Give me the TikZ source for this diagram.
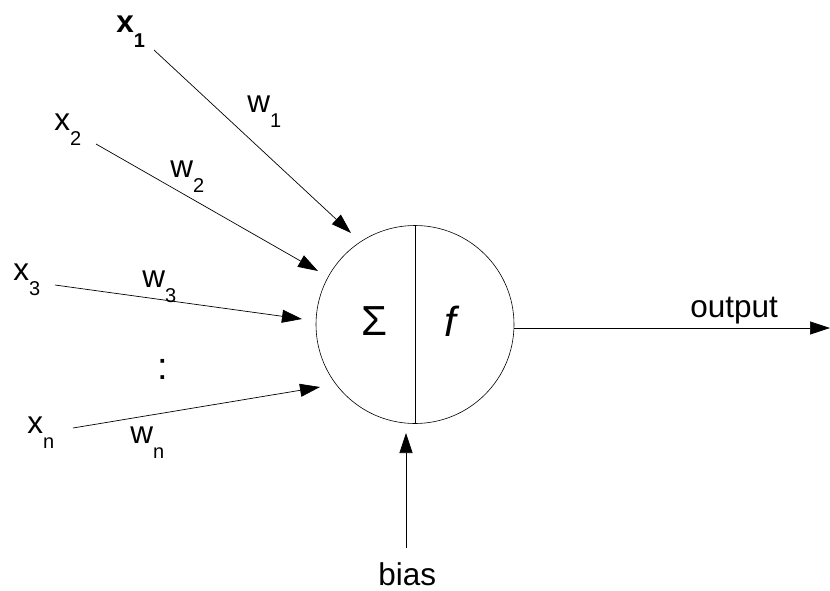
\documentclass[tikz,border=0pt]{standalone}
\usepackage{fontspec}
\setmainfont{Liberation Sans}
\usetikzlibrary{arrows.meta}
\newcommand{\idx}[2]{#1\raisebox{-15pt}{\fontsize{20}{20}\selectfont #2}}

\begin{document}
\begin{tikzpicture}[every node/.style={font=\fontsize{31.5}{32}\selectfont, inner sep=0pt, anchor=base west}, >={Triangle[length=20pt, width=13pt]}, x=1pt, y=-1pt, line width=0.7pt]
	\useasboundingbox (0,0) rectangle (830,590);
	\node[circle, draw, minimum size=198pt, anchor=center, line width=0.6pt] (neuron) at (415,324.5) {};
	\draw[line width=0.6pt] (neuron.north) -- (neuron.south);
	\node[anchor=center, font=\fontsize{42}{42}\selectfont] (sum) at (374,321) {Σ};
	\node[anchor=center, font=\fontsize{42}{42}\selectfont\itshape] (act) at (450,321) {f};
	% inputs and weights
	\node[font=\fontsize{31.5}{32}\selectfont\bfseries] (x1) at (116,32) {\idx{x}{1}};
	\node (x2) at (54,130) {\idx{x}{2}};
	\node (x3) at (13,280) {\idx{x}{3}};
	\node (xn) at (27,433) {\idx{x}{n}};
	\node (w1) at (247,112) {\idx{w}{1}};
	\node (w2) at (170,177) {\idx{w}{2}};
	\node (w3) at (142,287) {\idx{w}{3}};
	\node (wn) at (130,443) {\idx{w}{n}};
	\node[font=\fontsize{38}{38}\selectfont, anchor=base] (dots) at (163,379) {:};
	\coordinate (s1) at (154,50);  \coordinate (t1) at (351,233);
	\coordinate (s2) at (96,144);  \coordinate (t2) at (318,271);
	\coordinate (s3) at (55,285);  \coordinate (t3) at (302,319);
	\coordinate (sn) at (73,428);  \coordinate (tn) at (320,387);
	\foreach \k in {1,2,3,n} {\draw[->] (s\k) -- (t\k);}
	% output and bias
	\node (out) at (690,317) {output};
	\coordinate (outend) at (830,328);
	\draw[->] ([yshift=-3.5pt]neuron.east) -- (outend);
	\node (bias) at (378,585) {bias};
	\coordinate (b0) at (406,548); \coordinate (b1) at (406,433);
	\draw[->] (b0) -- (b1);
\end{tikzpicture}
\end{document}
